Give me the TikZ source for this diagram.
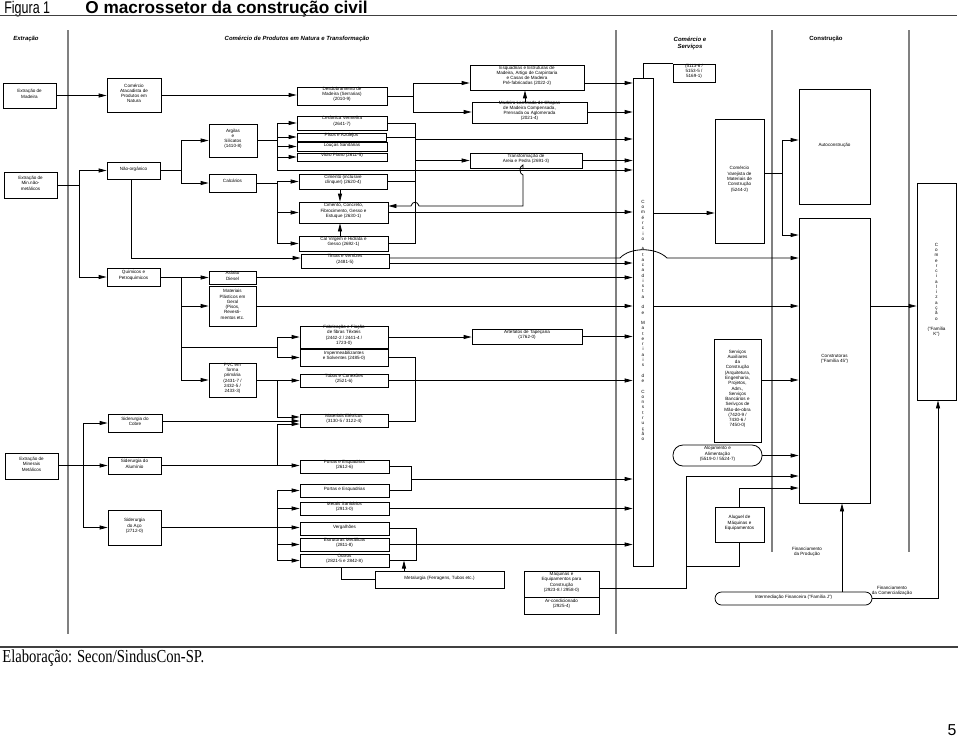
\documentclass[tikz,border=0pt]{standalone}
\usepackage{graphicx}
\usepackage{fontspec}
\setmainfont{Liberation Sans}
\newfontfamily\timesfont{Liberation Serif}
\usetikzlibrary{arrows.meta,fit}
\newcommand{\sm}{\fontsize{2.6}{3}\selectfont}

\begin{document}
\begin{tikzpicture}[x=0.02cm, y=-0.02cm,
    box/.style={draw, line width=0.45pt, inner sep=0pt, align=center, font=\sm},
    rbox/.style={box, rounded corners=0.2cm},
    arr/.style={line width=0.45pt, -{Triangle[length=0.16cm,width=0.08cm]}},
    ln/.style={line width=0.45pt},
    sepline/.style={draw=gray, line width=0.6pt},
    rule/.style={draw=black!75, line width=1.1pt},
    colhead/.style={font=\fontsize{3.4}{4}\selectfont\bfseries\itshape, align=center}]
      \useasboundingbox (0,0) rectangle (960,737);
      \node (fig) [anchor=base west, inner sep=0, font=\fontsize{9.6}{11}\selectfont] at (4,13) {\scalebox{0.74}[1]{Figura 1}};
      \node (title) [anchor=base west, inner sep=0, font=\fontsize{9.8}{11}\selectfont\bfseries] at (85,13) {O macrossetor da construção civil};
      \draw [rule] (0,15.5) -- (957,15.5);
      \node (hextr) [colhead] at (26,39) {Extração};
      \node (hcom) [colhead] at (297,39) {Comércio de Produtos em Natura e Transformação};
      \node (hserv) [colhead] at (690,43) {Comércio e\\Serviços};
      \node (hcons) [colhead, font=\fontsize{3.4}{4}\selectfont\bfseries] at (826,39) {Construção};
      \draw [sepline] (68,30) -- (68,634);
      \draw [sepline] (616,30) -- (616,634);
      \draw [sepline] (772,30) -- (772,552);
      \draw [sepline] (909,30) -- (909,552);
      \draw [rule] (0,647) -- (958,647);
      \node (src) [anchor=base west, inner sep=0, font=\timesfont\fontsize{10.4}{12}\selectfont] at (2,662) {\scalebox{0.8}[1]{Elaboração: Secon/SindusCon-SP.}};
      \node (pg) [anchor=base, inner sep=0, font=\fontsize{9}{10}\selectfont] at (952,735) {5};

      \node (madeira) [box, fit={(3,83) (56,108)}] {Extração de\\Madeira};
      \node (minnm) [box, fit={(4,172) (57,198)}] {Extração de\\Min.não-\\metálicos};
      \node (minmet) [box, fit={(5,453) (58,479)}] {Extração de\\Minerais\\Metálicos};

      \node (natura) [box, fit={(107,78) (161,112)}] {Comércio\\Atacadista de\\Produtos em\\Natura};
      \node (naoorg) [box, fit={(107,162) (160,179)}] {Não-orgânico};
      \node (quim) [box, fit={(107,268) (160,286)}] {Químicos e\\Petroquímicos};
      \node (cobre) [box, fit={(108,414) (162,432)}] {Siderurgia do\\Cobre};
      \node (alum) [box, fit={(108,457) (161,474)}] {Siderurgia do\\Alumínio};
      \node (aco) [box, fit={(108,510) (161,545)}] {Siderurgia\\do Aço\\(2712-0)};

      \node (argilas) [box, fit={(209,124) (257,157)}] {Argilas\\e\\Silicatos\\(1410-8)};
      \node (calc) [box, fit={(209,174) (256,192)}] {Calcários};
      \node (asfalto) [box, fit={(209,271) (256,284)}] {Asfalto\\Diesel};
      \node (plast) [box, fit={(209,286) (256,326)}] {Materiais\\Plásticos em\\Geral\\(Pisos,\\Revesti-\\mentos etc.};
      \node (pvc) [box, fit={(209,363) (256,397)}] {PVC em\\forma\\primária\\(2431-7 /\\2432-5 /\\2433-3)};

      \node (desd) [box, fit={(297,87) (387,105)}] {Desdobramento de\\Madeira (Serrarias)\\(2010-9)};
      \node (ceram) [box, fit={(297,116) (387,130)}] {Cerâmica Vermelha\\(2641-7)};
      \node (pisos) [box, fit={(297,133) (386,141)}] {Pisos e Azulejos};
      \node (loucas) [box, fit={(297,142) (387,151)}] {Louças Sanitárias};
      \node (vidro) [box, fit={(297,153) (387,161)}] {Vidro Plano (2611-5)};
      \node (cimento) [box, fit={(299,174) (387,189)}] {Cimento (inclusive\\clínquer) (2620-4)};
      \node (cimconc) [box, fit={(299,202) (388,223)}] {Cimento, Concreto,\\Fibrocimento, Gesso e\\Estuque (2630-1)};
      \node (cal) [box, fit={(299,236) (388,251)}] {Cal Virgem e Hidrata e\\Gesso (2692-1)};
      \node (tintas) [box, fit={(301,254) (389,268)}] {Tintas e Vernizes\\(2481-5)};
      \node (fibras) [box, fit={(300,326) (388,348)}] {Fabricação e Fiação\\de fibras Têxteis\\(2442-2 / 2441-4 /\\1723-0)};
      \node (imperm) [box, fit={(300,349) (388,366)}] {Impermeabilizantes\\e Solventes (2485-0)};
      \node (tubos) [box, fit={(300,374) (388,387)}] {Tubos e Conexões\\(2521-6)};
      \node (eletr) [box, fit={(300,414) (388,427)}] {Materiais Elétricos\\(3130-5 / 3122-4)};
      \node (portas1) [box, fit={(300,460) (389,473)}] {Portas e Esquadrias\\(2612-6)};
      \node (portas2) [box, fit={(300,484) (389,497)}] {Portas e Esquadrias};
      \node (metais) [box, fit={(300,502) (389,515)}] {Metais Sanitários\\(2913-0)};
      \node (verg) [box, fit={(300,522) (389,535)}] {Vergalhões};
      \node (estrut) [box, fit={(300,538) (389,551)}] {Estruturas Metálicas\\(2811-8)};
      \node (outros) [box, fit={(300,554) (389,567)}] {Outros\\(2821-5 e 2842-8)};

      \node (esquad) [box, fit={(470,65) (584,90)}] {Esquadrias e Estruturas de\\Madeira, Artigo de Carpintaria\\e Casas de Madeira\\Pré-fabricadas (2022-2)};
      \node (lamin) [box, fit={(472,102) (587,123)}] {Madeira Laminada de Chapas\\de Madeira Compensada,\\Prensada ou Aglomerada\\(2021-4)};
      \node (areia) [box, fit={(470,153) (582,168)}] {Transformação de\\Areia e Pedra (2691-3)};
      \node (tapec) [box, fit={(472,329) (582,344)}] {Artefatos de Tapeçaria\\(1762-0)};
      \node (metal) [box, fit={(375,571) (504,588)}] {Metalurgia (Ferragens, Tubos etc.)};
      \node (maq) [box, fit={(524,571) (599,597)}] {Máquinas e\\Equipamentos para\\Construção\\(2923-8 / 2958-0)};
      \node (arcond) [box, fit={(524,597) (599,614)}] {Ar-condicionado\\(2925-4)};

      \node (atac) [box, fit={(633,78) (653,566)}] {C\\o\\m\\é\\r\\c\\i\\o\\[3pt]A\\t\\a\\c\\a\\d\\i\\s\\t\\a\\[3pt]d\\e\\[3pt]M\\a\\t\\e\\r\\i\\a\\i\\s\\[3pt]d\\e\\[3pt]C\\o\\n\\s\\t\\r\\u\\ç\\ã\\o};
      \node (cod) [box, fit={(673,64) (715,82)}] {(5113-6 /\\5153-5 /\\5169-1)};
      \node (varej) [box, fit={(715,119) (764,243)}] {Comércio\\Varejista de\\Materiais de\\Construção\\(5244-2)};
      \node (serv) [box, fit={(714,339) (761,442)}] {Serviços\\Auxiliares\\da\\Construção\\(Arquitetura,\\Engenharia,\\Projetos,\\Adm.,\\Serviços\\Bancários e\\Serivços de\\Mão-de-obra\\(7420-9 /\\7430-6 /\\7450-0)};
      \node (aloj) [rbox, fit={(673,445) (762,466)}] {Alojamento e\\Alimentação\\(5519-0 / 5524-7)};
      \node (alug) [box, fit={(715,507) (764,542)}] {Aluguel de\\Máquinas e\\Equipamentos};
      \node (interm) [rbox, rounded corners=0.13cm, fit={(715,592) (872,605)}] {Intermediação Financeira ("Família J")};

      \node (auto) [box, fit={(799,89) (870,204)}] {Autoconstrução};
      \node (constr) [box, fit={(799,218) (870,503)}] {Construtoras\\("Família 45")};
      \node (comerc) [box, fit={(917,183) (956,400)}] {C\\o\\m\\e\\r\\c\\i\\a\\l\\i\\z\\a\\ç\\ã\\o\\[3pt]("Família\\K")};
      \node (finprod) [font=\sm, align=center] at (807,552) {Financiamento\\da Produção};
      \node (fincom) [font=\sm, align=center] at (892,591) {Financiamento\\da Comercialização};

      \draw [arr] (madeira.east) -- (natura.west |- madeira.east);
      \draw [arr] (natura.east) -- (desd.west |- natura.east);
      \draw [ln] (desd.east) -- (413,0 |- desd.east);
      \draw [arr] (413,0 |- desd.east) |- (esquad.west |- 0,83);
      \draw [arr] (413,0 |- desd.east) |- (lamin.west |- 0,112);
      \draw [arr] (lamin.north -| 525,0) -- (esquad.south -| 525,0);
      \draw [arr] (esquad.east |- 0,83) -- (atac.west |- 0,83);
      \draw [arr] (lamin.east |- 0,112) -- (atac.west |- 0,112);

      \draw [ln] (minnm.east) -- (79,0 |- minnm.east);
      \draw [arr] (79,0 |- minnm.east) |- (naoorg.west);
      \draw [arr] (79,0 |- minnm.east) |- (quim.west);
      \draw [ln] (naoorg.east) -- (181,0 |- naoorg.east);
      \draw [arr] (181,0 |- naoorg.east) |- (argilas.west);
      \draw [arr] (181,0 |- naoorg.east) |- (calc.west);
      \draw [arr] (naoorg.south -| 131,0) |- (tintas.west |- 0,258);

      \draw [ln] (argilas.east) -- (277,0 |- argilas.east);
      \draw [ln] (277,0 |- ceram.west) -- (277,170);
      \foreach \b in {ceram,pisos,loucas,vidro}
        \draw [arr] (277,0 |- \b.west) -- (\b.west);
      \draw [arr] (277,170) -- (atac.west |- 0,170);
      \draw [arr] (415,170) |- (areia.west);
      \draw [ln] (ceram.east) -- (415,0 |- ceram.east) -- (415,0 |- cal.east) -- (cal.east);
      \draw [ln] (pisos.east) -- (415,0 |- pisos.east);
      \draw [ln] (cimento.east) -- (415,0 |- cimento.east);
      \draw [arr] (415,139) -- (atac.west |- 0,139);
      \draw [arr] (areia.east) -- (atac.west |- areia.east);

      \draw [ln] (calc.east) -- (277,0 |- calc.east);
      \draw [ln] (277,0 |- cimento.west) -- (277,0 |- cal.west);
      \foreach \b in {cimento,cimconc,cal}
        \draw [arr] (277,0 |- \b.west) -- (\b.west);
      \draw [arr] (cimento.south -| 340,0) -- (cimconc.north -| 340,0);
      \draw [arr] (cal.north -| 340,0) -- (cimconc.south -| 340,0);
      \draw [arr] (cimconc.east |- 0,212) -- (atac.west |- 0,212);
      \draw [arr] (areia.south -| 523,0) -- (523,165) .. controls (519,166) and (519,174) .. (523,175) -- (523,206) -- (419,206) .. controls (418,201) and (412,201) .. (411,206) -- (cimconc.east |- 0,206);
      \draw [arr] (tintas.east |- 0,258) -- (620,258) .. controls (630,247) and (656,247) .. (667,258) -- (constr.west |- 0,258);
      \draw [arr] (tintas.east |- 0,263) -- (atac.west |- 0,263);

      \draw [ln] (quim.east) -- (181,0 |- quim.east) -- (181,0 |- pvc.west);
      \draw [arr] (asfalto.west -| 181,0) -- (asfalto.west);
      \draw [arr] (plast.west -| 181,0) -- (plast.west);
      \draw [arr] (pvc.west -| 181,0) -- (pvc.west);
      \draw [ln] (181,347) -- (277,347);
      \draw [ln] (277,0 |- fibras.west) -- (277,0 |- imperm.west);
      \draw [arr] (277,0 |- fibras.west) -- (fibras.west);
      \draw [arr] (277,0 |- imperm.west) -- (imperm.west);
      \draw [arr] (asfalto.east) -- (atac.west |- asfalto.east);
      \draw [arr] (plast.east) -- (atac.west |- plast.east);
      \draw [arr] (atac.east |- plast.east) -- (constr.west |- plast.east);
      \draw [arr] (fibras.east) -- (tapec.west |- fibras.east);
      \draw [arr] (tapec.east) -- (atac.west |- tapec.east);

      \draw [ln] (pvc.east) -- (277,0 |- pvc.east) -- (277,417);
      \draw [arr] (tubos.west -| 277,0) -- (tubos.west);
      \draw [arr] (277,417) -- (eletr.west |- 0,417);
      \draw [arr] (tubos.east) -- (atac.west |- tubos.east);
      \draw [ln] (imperm.east) -- (415,0 |- imperm.east) -- (415,421) -- (eletr.east |- 0,421);
      \draw [arr] (cobre.east |- 0,421) -- (eletr.west |- 0,421);

      \draw [arr] (minmet.east |- alum.west) -- (alum.west);
      \draw [arr] (83,0 |- alum.west) |- (cobre.west);
      \draw [arr] (83,0 |- alum.west) |- (aco.west);
      \draw [arr] (alum.east) -- (portas1.west |- alum.east);
      \draw [arr] (277,0 |- alum.east) |- (eletr.west |- 0,424);
      \draw [arr] (aco.east) -- (verg.west |- aco.east);
      \draw [ln] (277,0 |- portas2.west) -- (277,0 |- outros.west);
      \foreach \b in {portas2,metais,estrut,outros}
        \draw [arr] (277,0 |- \b.west) -- (\b.west);
      \draw [ln] (portas1.east) -- (411,0 |- portas1.east) -- (411,0 |- portas2.east) -- (portas2.east);
      \draw [arr] (411,479) -- (atac.west |- 0,479);
      \draw [arr] (metais.east) -- (atac.west |- metais.east);
      \draw [ln] (verg.east) -- (416,0 |- verg.east) -- (416,0 |- outros.east) -- (outros.east);
      \draw [arr] (estrut.east) -- (atac.west |- estrut.east);
      \draw [ln] (outros.south -| 341,0) |- (metal.west);
      \draw [arr] (metal.north -| 404,0) -- (404,0 |- outros.east);

      \draw [arr] (maq.east |- 0,588) -- (686,588) -- (686,476) -- (constr.west |- 0,476);
      \draw [ln] (686,566) -| (alug.south);
      \draw [arr] (alug.north) |- (constr.west |- 0,488);
      \draw [arr] (aloj.east) -- (constr.west |- aloj.east);
      \draw [arr] (serv.east |- 0,380) -- (constr.west |- 0,380);
      \draw [arr] (atac.east |- 0,213) -- (varej.west |- 0,213);
      \draw [ln] (varej.east |- 0,173) -- (782,173);
      \draw [arr] (782,173) |- (auto.west |- 0,140);
      \draw [arr] (782,173) |- (constr.west |- 0,235);
      \draw [ln] (atac.north) |- (cod.north west);
      \draw [arr] (constr.east |- 0,306) -- (comerc.west |- 0,306);
      \draw [arr] (interm.north -| 842,0) -- (constr.south -| 842,0);
      \draw [arr] (interm.east) -| (comerc.south -| 938,0);
    \end{tikzpicture}
\end{document}
